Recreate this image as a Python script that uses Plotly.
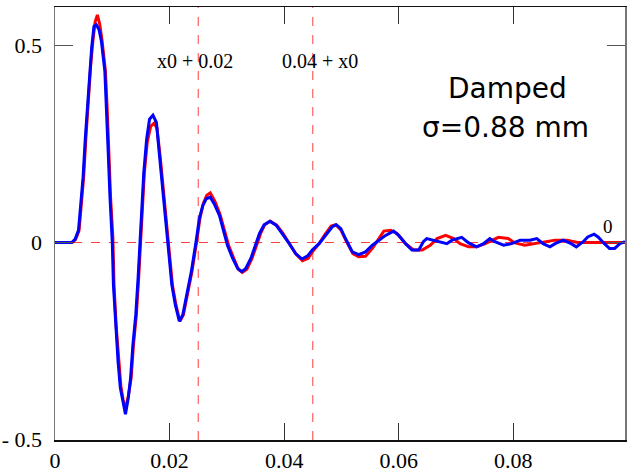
import plotly.graph_objects as go

blue_x = [0, 0.0029, 0.0035, 0.0041, 0.0045, 0.0049, 0.0053, 0.0057, 0.0061, 0.0064, 0.0068, 0.0072,
          0.0077, 0.0081, 0.0087, 0.0090, 0.0093, 0.0096, 0.0100, 0.0102, 0.0106, 0.0110, 0.0114, 0.0119,
          0.0123, 0.0128, 0.0132, 0.0136, 0.0141, 0.0145, 0.0148, 0.0151, 0.0155, 0.0160, 0.0165, 0.0171,
          0.0177, 0.0183, 0.0188, 0.0192, 0.0196, 0.0200, 0.0204, 0.0210, 0.0217, 0.0223, 0.0229, 0.0238,
          0.0246, 0.0249, 0.0252, 0.0258, 0.0264, 0.0271, 0.0278, 0.0287, 0.0296, 0.0301, 0.0310, 0.0319,
          0.0326, 0.0333, 0.0342, 0.0351, 0.0357, 0.0365, 0.0375, 0.0386, 0.0397, 0.0409, 0.0420, 0.0431,
          0.0441, 0.0449, 0.0461, 0.0473, 0.0484, 0.0491, 0.0499, 0.0507, 0.0519, 0.0530, 0.0542, 0.0554,
          0.0565, 0.0577, 0.0591, 0.0600, 0.0612, 0.0623, 0.0635, 0.0643, 0.0649, 0.0661, 0.0672, 0.0684,
          0.0693, 0.0710, 0.0722, 0.0736, 0.0748, 0.0759, 0.0768, 0.0783, 0.0797, 0.0812, 0.0829, 0.0841,
          0.0852, 0.0864, 0.0873, 0.0887, 0.0901, 0.0910, 0.0922, 0.0930, 0.0941, 0.0948, 0.0959, 0.0968,
          0.0977, 0.0986, 0.0995]
blue_y = [0, 0, 0.008, 0.031, 0.098, 0.166, 0.267, 0.359, 0.444, 0.494, 0.549, 0.553,
          0.540, 0.511, 0.435, 0.343, 0.225, 0.115, 0.0, -0.108, -0.217, -0.301, -0.369, -0.411,
          -0.436, -0.394, -0.343, -0.259, -0.184, -0.091, 0.0, 0.094, 0.178, 0.263, 0.313, 0.323,
          0.305, 0.212, 0.136, 0.069, 0.0, -0.057, -0.108, -0.158, -0.200, -0.184, -0.141, -0.074,
          0.0, 0.027, 0.061, 0.094, 0.111, 0.115, 0.098, 0.069, 0.019, -0.007, -0.040, -0.066,
          -0.074, -0.066, -0.040, 0.0, 0.023, 0.045, 0.054, 0.044, 0.023, -0.003, -0.028, -0.042,
          -0.034, -0.019, -0.003, 0.018, 0.040, 0.045, 0.035, 0.010, -0.024, -0.031, -0.024, -0.007,
          0.006, 0.018, 0.029, 0.018, -0.003, -0.019, -0.019, 0.002, 0.010, 0.006, 0.002, -0.003,
          0.006, 0.013, -0.001, -0.011, -0.003, 0.010, 0.002, -0.007, -0.003, 0.006, 0.006, 0.010,
          -0.003, -0.011, -0.003, 0.006, -0.003, -0.011, 0.002, 0.014, 0.021, 0.014, -0.003, -0.015,
          -0.015, -0.003, 0.002]

red_x = [0, 0.0030, 0.0036, 0.0042, 0.0046, 0.0050, 0.0054, 0.0058, 0.0062, 0.0066, 0.0070, 0.0074,
         0.0078, 0.0082, 0.0088, 0.0091, 0.0094, 0.0097, 0.0101, 0.0103, 0.0107, 0.0111, 0.0115, 0.0119,
         0.0123, 0.0128, 0.0133, 0.0137, 0.0142, 0.0146, 0.0149, 0.0152, 0.0156, 0.0161, 0.0167, 0.0173,
         0.0178, 0.0184, 0.0189, 0.0193, 0.0197, 0.0201, 0.0205, 0.0211, 0.0218, 0.0224, 0.0230, 0.0239,
         0.0247, 0.0250, 0.0253, 0.0259, 0.0265, 0.0271, 0.0279, 0.0288, 0.0297, 0.0303, 0.0312, 0.0320,
         0.0327, 0.0335, 0.0344, 0.0353, 0.0359, 0.0366, 0.0376, 0.0387, 0.0398, 0.0410, 0.0421, 0.0432,
         0.0442, 0.0450, 0.0461, 0.0472, 0.0482, 0.0490, 0.0499, 0.0508, 0.0520, 0.0530, 0.0542, 0.0554,
         0.0565, 0.0574, 0.0586, 0.0597, 0.0612, 0.0626, 0.0641, 0.0655, 0.0667, 0.0682, 0.0696, 0.0707,
         0.0722, 0.0736, 0.0751, 0.0765, 0.0774, 0.0791, 0.0803, 0.0820, 0.0835, 0.0852, 0.0873, 0.0894,
         0.0912, 0.0995]
red_y = [0, 0, 0.008, 0.031, 0.098, 0.166, 0.267, 0.359, 0.444, 0.510, 0.560, 0.578,
         0.555, 0.515, 0.435, 0.343, 0.225, 0.115, 0.014, -0.108, -0.217, -0.301, -0.365, -0.400,
         -0.423, -0.390, -0.343, -0.259, -0.184, -0.091, 0.0, 0.094, 0.178, 0.255, 0.295, 0.303,
         0.290, 0.212, 0.136, 0.069, 0.0, -0.057, -0.108, -0.158, -0.200, -0.184, -0.141, -0.074,
         0.0, 0.027, 0.061, 0.100, 0.120, 0.126, 0.105, 0.072, 0.022, -0.007, -0.040, -0.068,
         -0.076, -0.068, -0.040, 0.0, 0.023, 0.045, 0.054, 0.044, 0.023, -0.005, -0.030, -0.046,
         -0.040, -0.022, -0.003, 0.022, 0.042, 0.045, 0.032, 0.005, -0.028, -0.036, -0.035, -0.015,
         0.010, 0.029, 0.031, 0.023, -0.003, -0.019, -0.019, -0.007, 0.010, 0.018, 0.010, -0.003,
         -0.011, -0.011, -0.003, 0.006, 0.013, 0.010, -0.001, -0.007, -0.003, 0.0, 0.006, 0.006,
         0.0, 0.0]

x_ticks = [0, 0.02, 0.04, 0.06, 0.08]
x_ticktext = ["0", "0.02", "0.04", "0.06", "0.08"]
y_ticks = [-0.5, 0, 0.5]
y_ticktext = ["- 0.5", "0", "0.5"]
marker_lines = [0.025, 0.045]
marker_labels = ["x0 + 0.02", "0.04 + x0"]

fig = go.Figure()
fig.add_trace(go.Scatter(x=red_x, y=red_y, mode="lines",
                         line=dict(color="#ff0000", width=3), showlegend=False))
fig.add_trace(go.Scatter(x=blue_x, y=blue_y, mode="lines",
                         line=dict(color="#0000ff", width=3), showlegend=False))

# dashed reference lines
fig.add_shape(type="line", xref="paper", x0=0, x1=1, yref="y", y0=0, y1=0,
              line=dict(color="#ff4040", width=1, dash="dash"), layer="below")
for xv in marker_lines:
    fig.add_shape(type="line", xref="x", x0=xv, x1=xv, yref="paper", y0=0, y1=1,
                  line=dict(color="#ff4040", width=1, dash="dash"), layer="below")

serif = "Liberation Serif, Times New Roman, serif"
fig.add_annotation(x=marker_lines[0] - 0.0006, y=0.462, text=marker_labels[0], showarrow=False,
                   font=dict(family=serif, size=20, color="black"))
fig.add_annotation(x=marker_lines[1] + 0.0012, y=0.462, text=marker_labels[1], showarrow=False,
                   font=dict(family=serif, size=20, color="black"))
fig.add_annotation(x=0.0966, y=0.04, text="0", showarrow=False,
                   font=dict(family=serif, size=19, color="black"))
fig.add_annotation(x=0.0790, y=0.392, text="Damped", showarrow=False,
                   font=dict(family="DejaVu Sans, sans-serif", size=28, color="black"))
fig.add_annotation(x=0.0787, y=0.292, text="σ=0.88 mm", showarrow=False,
                   font=dict(family="DejaVu Sans, sans-serif", size=28, color="black"))

fig.update_xaxes(range=[0, 0.0995], tickmode="array", tickvals=x_ticks, ticktext=x_ticktext,
                 ticks="inside", ticklen=17, tickcolor="#333", tickwidth=1,
                 showline=True, linecolor="#111", linewidth=1.5, mirror="ticks",
                 showgrid=False, zeroline=False, ticklabelstandoff=0,
                 tickfont=dict(family=serif, size=22, color="black"))
fig.update_yaxes(range=[-0.5015, 0.598], tickmode="array", tickvals=y_ticks, ticktext=y_ticktext,
                 ticks="inside", ticklen=18, tickcolor="#555", tickwidth=1,
                 showline=True, linecolor="#777", linewidth=1.5, mirror="ticks",
                 showgrid=False, zeroline=False, ticklabelstandoff=7,
                 tickfont=dict(family=serif, size=22, color="black"))

fig.update_layout(width=627, height=473, margin=dict(l=55, r=0, t=7, b=32),
                  plot_bgcolor="white", paper_bgcolor="white", hovermode=False)

# remove the browser's default body margin so the 627x473 figure fills the window exactly
fig.write_html("out.html", config={"staticPlot": True},
               post_script="document.body.style.margin='0';document.body.style.overflow='hidden';")
